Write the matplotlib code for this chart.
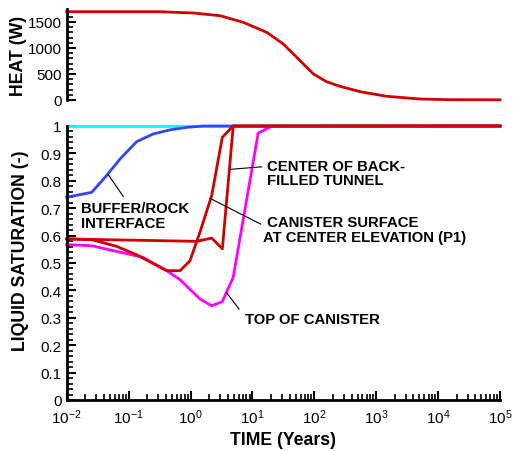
import matplotlib
matplotlib.use("Agg")
import matplotlib.pyplot as plt
from matplotlib.ticker import MultipleLocator, LogLocator, NullFormatter
import numpy as np

plt.rcParams['font.family'] = ['Liberation Sans', 'DejaVu Sans']
plt.rcParams['mathtext.default'] = 'regular'

# -- heat output (W) vs time (years) -- #
heat_t = [0.01, 0.32, 1.11, 3.0, 7.1, 17, 31.6, 52, 96.6, 158, 260, 550, 1480, 5100, 15000, 100000]
heat_w = [1698, 1698, 1673, 1621, 1494, 1302, 1077, 821, 500, 352, 263, 160, 71, 19, 6, 4]

# -- liquid saturation curves -- #
always_t = [0.01, 100000]
always_s = [1.0, 1.0]

buffer_t = [0.01, 0.0254, 0.044, 0.073, 0.135, 0.25, 0.47, 0.87, 1.6, 100000]
buffer_s = [0.74, 0.758, 0.819, 0.88, 0.943, 0.971, 0.986, 0.995, 1.0, 1.0]

surface_t = [0.01, 0.0254, 0.0635, 0.135, 0.413, 0.68, 0.98, 1.42, 2.2, 3.27, 4.9, 100000]
surface_s = [0.588, 0.585, 0.561, 0.530, 0.472, 0.472, 0.508, 0.612, 0.746, 0.959, 1.0, 1.0]

tunnel_t = [0.01, 0.0254, 1.26, 2.2, 3.27, 4.9, 100000]
tunnel_s = [0.588, 0.586, 0.579, 0.591, 0.552, 1.0, 1.0]

top_t = [0.01, 0.0254, 0.0566, 0.17, 0.413, 0.68, 1.42, 2.2, 3.27, 4.9, 12.4, 20.4, 100000]
top_s = [0.567, 0.563, 0.545, 0.521, 0.472, 0.439, 0.369, 0.344, 0.359, 0.448, 0.974, 0.999, 1.0]

sat_ticks = ['0', '0.1', '0.2', '0.3', '0.4', '0.5', '0.6', '0.7', '0.8', '0.9', '1']

RED = '#d00000'
W, H = 513, 452

fig = plt.figure(figsize=(W / 100, H / 100), dpi=100)
ax_h = fig.add_axes([66.7 / W, (H - 101) / H, (500 - 66.7) / W, 91 / H])
ax_s = fig.add_axes([66.7 / W, (H - 401) / H, (500 - 66.7) / W, 274 / H])


def style(ax):
    for s in ['top', 'right']:
        ax.spines[s].set_visible(False)
    for s in ['left', 'bottom']:
        ax.spines[s].set_linewidth(2)
    ax.tick_params(which='major', direction='in', length=6.5, width=1.5, labelsize=11, pad=3.5)
    ax.tick_params(which='minor', direction='in', length=4, width=1.2)
    ax.set_xscale('log')
    ax.set_xlim(0.01, 100000)


# ---- heat panel ---- #
style(ax_h)
ax_h.spines['bottom'].set_visible(False)
ax_h.plot(heat_t, heat_w, color=RED, lw=2, clip_on=False)
ax_h.set_ylim(0, 1750)
ax_h.yaxis.set_major_locator(MultipleLocator(500))
ax_h.yaxis.set_minor_locator(MultipleLocator(100))
ax_h.tick_params(axis='x', which='both', bottom=False, labelbottom=False)
ax_h.set_ylabel('HEAT (W)', fontsize=12.7, fontweight='bold')
ax_h.yaxis.set_label_coords(-0.092, 0.5)

# ---- saturation panel ---- #
style(ax_s)
ax_s.plot(always_t, always_s, color='#00ffff', lw=2, clip_on=False)
ax_s.plot(buffer_t, buffer_s, color='#3344ff', lw=2, clip_on=False)
ax_s.plot(top_t, top_s, color='#ff00ff', lw=2, clip_on=False)
ax_s.plot(surface_t, surface_s, color=RED, lw=2, clip_on=False)
ax_s.plot(tunnel_t, tunnel_s, color=RED, lw=2, clip_on=False)
ax_s.set_ylim(0, 1)
ax_s.set_yticks(np.arange(0, 1.01, 0.1))
ax_s.set_yticklabels(sat_ticks)
ax_s.yaxis.set_minor_locator(MultipleLocator(0.02))
ax_s.xaxis.set_major_locator(LogLocator(base=10, numticks=20))
ax_s.xaxis.set_minor_locator(LogLocator(base=10, subs=np.arange(2, 10), numticks=20))
ax_s.xaxis.set_minor_formatter(NullFormatter())
ax_s.tick_params(axis='x', which='major', pad=5)
ax_s.set_ylabel('LIQUID SATURATION (-)', fontsize=12.7, fontweight='bold')
ax_s.yaxis.set_label_coords(-0.088, 0.547)
ax_s.set_xlabel('TIME (Years)', fontsize=12.7, fontweight='bold', labelpad=4)

# ---- curve labels with leader lines ---- #
lab = dict(fontsize=10.7, fontweight='bold', ha='left', va='center', linespacing=1.05)
lead = dict(color='black', lw=0.8, clip_on=False)

ax_s.text(0.0168, 0.673, 'BUFFER/ROCK\nINTERFACE', **lab)
ax_s.plot([0.047, 0.082], [0.822, 0.743], **lead)

ax_s.text(17.0, 0.828, 'CENTER OF BACK-\nFILLED TUNNEL', **lab)
ax_s.plot([4.46, 14.1], [0.842, 0.851], **lead)

ax_s.text(15.0, 0.622, ' CANISTER SURFACE\nAT CENTER ELEVATION (P1)', **lab)
ax_s.plot([2.07, 13.6], [0.736, 0.642], **lead)

ax_s.text(7.59, 0.296, 'TOP OF CANISTER', **lab)
ax_s.plot([3.85, 6.08], [0.391, 0.332], **lead)

fig.savefig('out.png', dpi=100)
